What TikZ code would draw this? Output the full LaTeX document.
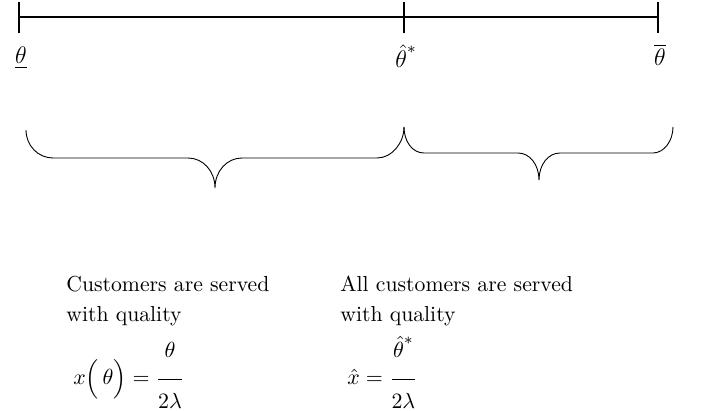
\documentclass[tikz,border=0pt]{standalone}
\usepackage{amsmath}
\begin{document}
\begin{tikzpicture}[x=0.5pt,y=-0.5pt,
  axis/.style={line width=1.4pt},
  brline/.style={line width=0.45pt,line join=round},
  lbl/.style={inner sep=0pt,anchor=base,font=\fontsize{12}{14}\selectfont},
  txt/.style={anchor=base west,inner sep=0pt,font=\fontsize{10.85}{13}\selectfont},
  fml/.style={anchor=base west,inner sep=0pt,font=\fontsize{11}{13}\selectfont}]
\useasboundingbox (0,0) rectangle (709,411);
\coordinate (A) at (19,17);
\coordinate (B) at (404,17);
\coordinate (C) at (658,17);
\draw[axis] (A) -- (C);
\foreach \p in {A,B,C} \draw[axis] ([yshift=7.5pt]\p) -- ([yshift=-8pt]\p);
\node[lbl] (la) at (21,64) {$\underline{\theta}$};
\node[lbl] (lb) at (406,68) {$\hat{\theta}^{\raisebox{3pt}{$\scriptstyle *$}}$};
\node[lbl] (lc) at (660,66) {$\overline{\theta}$};
% left brace
\coordinate (L1) at (26,130);
\coordinate (LT) at (215,188);
\coordinate (L2) at (404,127);
\draw[brline] (L1) .. controls (26,145.5) and (38,158) .. (53,158) -- (188,158)
  .. controls (203,158) and (215,171) .. (LT)
  .. controls (215,171) and (227,158) .. (242,158) -- (377,158)
  .. controls (392,158) and (404,143) .. (L2);
% right brace
\coordinate (R1) at (404,127);
\coordinate (RT) at (539,180);
\coordinate (R2) at (673,127);
\draw[brline] (R1) .. controls (404,141) and (412,153) .. (424,153) -- (518,153)
  .. controls (530,153) and (539,165) .. (RT)
  .. controls (539,165) and (548,153) .. (560,153) -- (653,153)
  .. controls (664,153) and (673,141) .. (R2);
\node[txt] (t1) at (66,292) {Customers are served};
\node[txt] (t2) at (66,322) {with quality};
\node[fml] (f1) at (73,385) {$x\Bigl(\,\theta\Bigr)=\dfrac{\raisebox{6.3pt}{$\theta$}}{\raisebox{-4pt}{$2\lambda$}}$};
\node[txt] (t3) at (340,292) {All customers are served};
\node[txt] (t4) at (340,322) {with quality};
\node[fml] (f2) at (347,385) {$\hat{x}=\dfrac{\raisebox{6.3pt}{$\hat{\theta}^{\raisebox{2.5pt}{$\scriptstyle *$}}$}}{\raisebox{-4pt}{$2\lambda$}}$};
\end{tikzpicture}
\end{document}
